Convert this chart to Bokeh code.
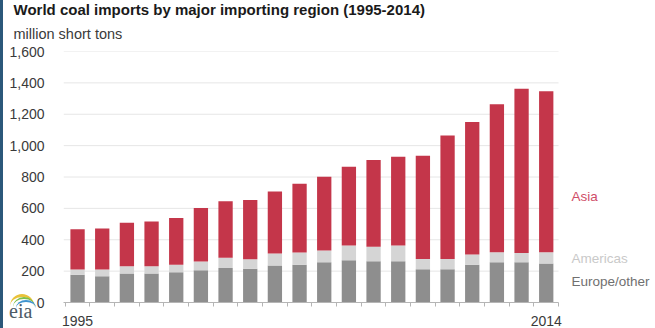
from bokeh.plotting import figure
from bokeh.models import (ColumnDataSource, Range1d, FixedTicker, NumeralTickFormatter,
                          Label, Title, Div)
from bokeh.embed import file_html
from bokeh.resources import INLINE

years = list(range(1995, 2015))
europe_other = [177, 168, 185, 185, 193, 205, 220, 215, 236, 241,
                257, 270, 263, 263, 212, 212, 241, 257, 257, 248]
americas = [34, 43, 46, 46, 47, 57, 65, 61, 76, 77,
            75, 93, 92, 100, 66, 66, 65, 63, 59, 72]
asia = [256, 261, 278, 286, 298, 340, 361, 377, 396, 439,
        470, 502, 553, 566, 658, 786, 844, 943, 1046, 1027]
series = ["europe_other", "americas", "asia"]
series_names = ["Europe/other", "Americas", "Asia"]
colors = ["#8e8e8e", "#d5d5d5", "#c4364a"]
y_ticks = [0, 200, 400, 600, 800, 1000, 1200, 1400, 1600]
x_label_years = [1995, 2014]

source = ColumnDataSource(dict(year=years, europe_other=europe_other,
                               americas=americas, asia=asia))

FONT = "Liberation Sans"
EDGE = 3
W, H = 655 - EDGE, 328
LEFT, TOP, BOTTOM = 60, 51, 25
X0, X1 = 1994.43, 2014.5          # extent of the plotting area proper
XR = X1 + 3.93                    # room on the right for the series names

p = figure(width=W, height=H, output_backend="svg", toolbar_location=None,
           x_range=Range1d(X0, XR), y_range=Range1d(0, 1600),
           min_border_left=LEFT, min_border_right=0, min_border_bottom=BOTTOM,
           min_border_top=TOP, title=None)
p.outline_line_color = None
p.styles = {"border-left": f"{EDGE}px solid #2b587a"}

# horizontal grid lines, limited to the bar area
p.segment(x0=X0, x1=X1, y0=y_ticks[1:], y1=y_ticks[1:], line_color="#e6e6e6",
          line_width=1)

p.vbar_stack(series, x="year", width=0.58, color=colors, source=source,
             line_color=None)

# title and subtitle
p.add_layout(Title(text="million short tons", text_font=FONT, text_font_size="14.5px",
                   text_font_style="normal", text_color="#3a3a3a", offset=13 - EDGE - LEFT,
                   standoff=20), "above")
p.add_layout(Title(text="World coal imports by major importing region (1995-2014)",
                   text_font=FONT, text_font_size="15px", text_font_style="bold",
                   text_color="#1a1a1a", offset=13 - EDGE - LEFT, standoff=-9), "above")

# y axis
p.yaxis.ticker = FixedTicker(ticks=y_ticks)
p.yaxis.formatter = NumeralTickFormatter(format="0,0")
p.yaxis.axis_line_color = None
p.yaxis.major_tick_line_color = None
p.yaxis.minor_tick_line_color = None
p.yaxis.major_label_text_font = FONT
p.yaxis.major_label_text_font_size = "14px"
p.yaxis.major_label_text_color = "#3a3a3a"
p.yaxis.major_label_standoff = 13

# x axis
p.xaxis.bounds = (X0, X1)
p.xaxis.ticker = FixedTicker(ticks=x_label_years,
                             minor_ticks=[y - 0.5 for y in years] + [years[-1] + 0.5])
p.xaxis.axis_line_color = "#b5b5b5"
p.xaxis.major_tick_line_color = None
p.xaxis.minor_tick_line_color = "#b5b5b5"
p.xaxis.minor_tick_out = 4
p.xaxis.minor_tick_in = 0
p.xaxis.major_label_text_font = FONT
p.xaxis.major_label_text_font_size = "14px"
p.xaxis.major_label_text_color = "#3a3a3a"
p.xaxis.major_label_standoff = 7

p.xgrid.grid_line_color = None
p.ygrid.grid_line_color = None

# series labels
label_y = {"Asia": 675, "Americas": 280, "Europe/other": 135}
label_color = {"Asia": "#cf4e68", "Americas": "#c9c9c9", "Europe/other": "#707070"}
for name in series_names:
    p.add_layout(Label(x=X1 + 0.52, y=label_y[name], text=name, text_font=FONT,
                       text_font_size="13.5px", text_color=label_color[name],
                       text_baseline="middle"))

# eia logo
logo_html = (
    '<div style="position:relative;width:34px;height:32px;">'
    '<div style="position:absolute;left:3px;top:0px;width:24px;height:12px;'
    'border-top:3px solid #e9c23a;border-radius:50% 50% 0 0 / 100% 100% 0 0;'
    'border-left:0;border-right:0;"></div>'
    '<div style="position:absolute;left:6px;top:3px;width:22px;height:10px;'
    'border-top:2px solid #7cbf4a;border-radius:50% 50% 0 0 / 100% 100% 0 0;"></div>'
    '<div style="position:absolute;left:9px;top:6px;width:20px;height:8px;'
    'border-top:2px solid #3f94cf;border-radius:50% 50% 0 0 / 100% 100% 0 0;"></div>'
    '<div style="position:absolute;left:2px;top:7px;font-family:\'Liberation Serif\';'
    'font-size:20px;line-height:20px;color:#4d5b66;">eia</div>'
    '</div>'
)
try:
    p.elements = [Div(text=logo_html, styles={"position": "absolute", "left": "4px",
                                              "top": "294px"})]
except Exception:
    pass

open("out.html", "w").write(file_html(p, INLINE))
